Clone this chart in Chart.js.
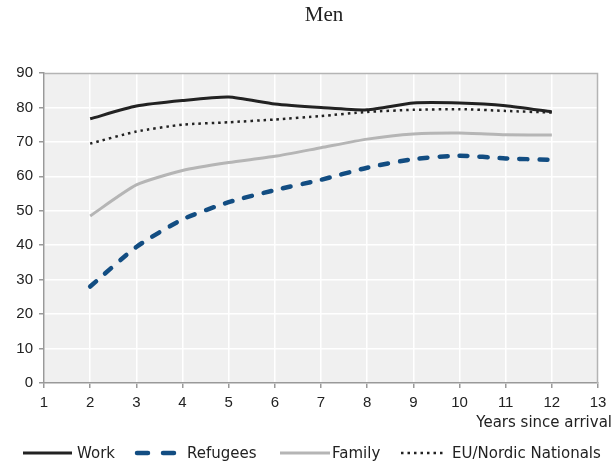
<!DOCTYPE html>
<html>
<head>
<meta charset="utf-8">
<script src="https://cdn.jsdelivr.net/npm/chart.js@4"></script>
<style>
  html, body { margin: 0; padding: 0; background: #fff; }
  #wrap { width: 613px; height: 464px; position: relative; }
</style>
</head>
<body>
<div id="wrap"><canvas id="chart"></canvas></div>
<script>
const years = [2, 3, 4, 5, 6, 7, 8, 9, 10, 11, 12];
const work = [76.7, 80.4, 82, 83, 81, 80, 79.3, 81.3, 81.3, 80.5, 78.7];
const refugees = [28, 39.5, 47.5, 52.5, 56, 59, 62.5, 65, 66, 65.2, 64.8];
const family = [48.5, 57.5, 61.7, 64, 65.8, 68.3, 70.8, 72.3, 72.6, 72.1, 72];
const euNordic = [69.5, 73, 75, 75.7, 76.5, 77.5, 78.7, 79.3, 79.5, 79, 78.5];
const yTicks = [0, 10, 20, 30, 40, 50, 60, 70, 80, 90];
const seriesNames = ['Work', 'Refugees', 'Family', 'EU/Nordic Nationals'];

const pts = arr => years.map((x, i) => ({ x: x, y: arr[i] }));
const tickFont = "'Liberation Sans', Arial, sans-serif";
const textFont = "'DejaVu Sans', sans-serif";

// plot background, frame, title, axis title and legend
const decor = {
    id: 'decor',
    beforeDraw(chart) {
        const { ctx, chartArea: a } = chart;
        ctx.save();
        ctx.fillStyle = '#f0f0f0';
        ctx.fillRect(a.left, a.top, a.right - a.left, a.bottom - a.top);
        ctx.restore();
    },
    afterDraw(chart) {
        const { ctx, chartArea: a } = chart;
        ctx.save();
        ctx.strokeStyle = '#b4b4b4';
        ctx.lineWidth = 1.5;
        ctx.beginPath();
        ctx.moveTo(a.left, a.top + 0.5);
        ctx.lineTo(a.right - 0.5, a.top + 0.5);
        ctx.lineTo(a.right - 0.5, a.bottom);
        ctx.stroke();

        ctx.fillStyle = '#222';
        ctx.font = "21px 'Liberation Serif', serif";
        ctx.textAlign = 'center';
        ctx.textBaseline = 'middle';
        ctx.fillText('Men', 324, 15);

        ctx.font = '15px ' + textFont;
        ctx.textAlign = 'right';
        ctx.fillText('Years since arrival', 612, 423);

        ctx.textAlign = 'left';
        const y = 453;
        const items = [
            { x1: 23, x2: 72, tx: 77, color: '#222', w: 3, dash: [], cap: 'butt' },
            { x1: 137, x2: 177, tx: 187, color: '#124d82', w: 4.5, dash: [11, 15], cap: 'round' },
            { x1: 280, x2: 330, tx: 332, color: '#b5b5b5', w: 3, dash: [], cap: 'butt' },
            { x1: 401, x2: 443, tx: 452, color: '#222', w: 2.5, dash: [2.5, 4], cap: 'butt' }
        ];
        items.forEach((it, i) => {
            ctx.strokeStyle = it.color;
            ctx.lineWidth = it.w;
            ctx.lineCap = it.cap;
            ctx.setLineDash(it.dash);
            ctx.beginPath();
            ctx.moveTo(it.x1, y);
            ctx.lineTo(it.x2, y);
            ctx.stroke();
            ctx.fillStyle = '#222';
            ctx.fillText(seriesNames[i], it.tx, y + 1);
        });
        ctx.restore();
    }
};

new Chart(document.getElementById('chart'), {
    type: 'line',
    data: {
        datasets: [
            { label: seriesNames[0], data: pts(work), borderColor: '#222', borderWidth: 3, pointRadius: 0, tension: 0.2 },
            { label: seriesNames[1], data: pts(refugees), borderColor: '#124d82', borderWidth: 4.5, borderDash: [8, 12], borderCapStyle: 'round', pointRadius: 0, tension: 0.2 },
            { label: seriesNames[2], data: pts(family), borderColor: '#b5b5b5', borderWidth: 3, pointRadius: 0, tension: 0.2 },
            { label: seriesNames[3], data: pts(euNordic), borderColor: '#222', borderWidth: 2.5, borderDash: [2.5, 4], pointRadius: 0, tension: 0.2 }
        ]
    },
    options: {
        responsive: true,
        maintainAspectRatio: false,
        animation: false,
        layout: { padding: { top: 73, right: 15, bottom: 51, left: 0 } },
        plugins: {
            legend: { display: false },
            title: { display: false },
            tooltip: { enabled: false }
        },
        scales: {
            x: {
                type: 'linear',
                min: 1,
                max: 13,
                afterFit: s => { s.height = 30; },
                ticks: { stepSize: 1, color: '#222', font: { family: tickFont, size: 15 }, padding: 6, maxRotation: 0 },
                grid: { color: '#ffffff', lineWidth: 1.5, tickColor: '#999', tickLength: 5 },
                border: { color: '#999', width: 1.5 }
            },
            y: {
                min: 0,
                max: 90,
                afterFit: s => { s.width = 44; },
                afterBuildTicks: s => { s.ticks = yTicks.map(v => ({ value: v })); },
                ticks: { color: '#222', font: { family: tickFont, size: 15 }, padding: 6 },
                grid: { color: '#ffffff', lineWidth: 1.5, tickColor: '#999', tickLength: 5 },
                border: { color: '#999', width: 1.5 }
            }
        }
    },
    plugins: [decor]
});
</script>
</body>
</html>
